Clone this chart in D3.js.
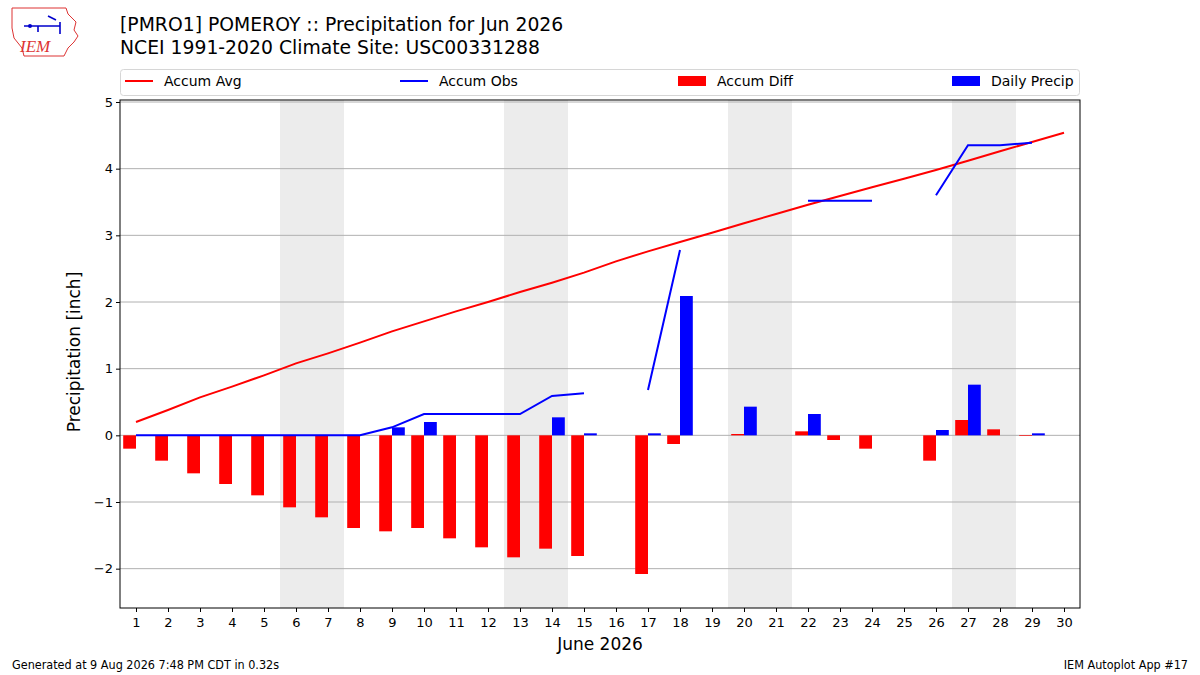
<!DOCTYPE html>
<html lang='en'>
<head>
  <meta charset='UTF-8'>
  <title>POMEROY Precipitation Jun 2026</title>
  <script src="https://d3js.org/d3.v7.min.js"></script>
  <style>
    body { margin: 0; background: #fff; }
    svg { font-family: 'DejaVu Sans', sans-serif; }
    .cond { font-family: 'DejaVu Sans Condensed', 'DejaVu Sans', sans-serif; font-stretch: condensed; }
  </style>
</head>
<body>
  <div id="chart"></div>
  <script>
    const days = d3.range(1, 31);
    const weekends = [[6, 7], [13, 14], [20, 21], [27, 28]];
    const accumAvg = [0.20, 0.38, 0.57, 0.73, 0.90, 1.08, 1.23, 1.39, 1.56, 1.71,
      1.86, 2.00, 2.15, 2.29, 2.44, 2.61, 2.76, 2.90, 3.04, 3.18,
      3.32, 3.46, 3.59, 3.72, 3.85, 3.98, 4.12, 4.26, 4.40, 4.54];
    const accumObs = [0, 0, 0, 0, 0, 0, 0, 0, 0.12, 0.32,
      0.32, 0.32, 0.32, 0.59, 0.63, null, 0.68, 2.78, null, 3.20,
      null, 3.52, 3.52, 3.52, null, 3.60, 4.35, 4.35, 4.39, null];
    const accumDiff = [-0.20, -0.38, -0.57, -0.73, -0.90, -1.08, -1.23, -1.39, -1.44, -1.39,
      -1.545, -1.68, -1.83, -1.70, -1.81, null, -2.08, -0.13, null, 0.02,
      null, 0.06, -0.07, -0.20, null, -0.38, 0.23, 0.09, -0.01, null];
    const dailyPrecip = [0, 0, 0, 0, 0, 0, 0, 0, 0.12, 0.20,
      0, 0, 0, 0.27, 0.03, null, 0.03, 2.09, null, 0.43,
      null, 0.32, 0, 0, null, 0.08, 0.76, 0, 0.03, null];
    const yTicks = [-2, -1, 0, 1, 2, 3, 4, 5];

    const W = 1200, H = 675;
    const m = { left: 120, right: 1080, top: 100, bottom: 608 };

    const svg = d3.select('#chart').append('svg')
      .attr('width', W).attr('height', H);

    const x = d3.scaleLinear().domain([0.5, 30.5]).range([m.left, m.right]);
    const y = d3.scaleLinear().domain([-2.59, 5.03]).range([m.bottom, m.top]);

    // 週末の背景
    svg.append('g').selectAll('rect').data(weekends).join('rect')
      .attr('x', (d) => x(d[0] - 0.5))
      .attr('width', (d) => x(d[1] + 0.5) - x(d[0] - 0.5))
      .attr('y', m.top).attr('height', m.bottom - m.top)
      .attr('fill', '#ececec');

    // グリッド
    svg.append('g').selectAll('line').data(yTicks).join('line')
      .attr('x1', m.left).attr('x2', m.right)
      .attr('y1', (d) => y(d)).attr('y2', (d) => y(d))
      .attr('stroke', '#b0b0b0').attr('stroke-width', 1);

    // 棒グラフ
    const bw = x(0.4) - x(0);
    svg.append('g').selectAll('rect')
      .data(days.map((d, i) => ({ day: d, v: accumDiff[i] })).filter((d) => d.v !== null))
      .join('rect')
      .attr('x', (d) => x(d.day - 0.4))
      .attr('width', bw)
      .attr('y', (d) => y(Math.max(0, d.v)))
      .attr('height', (d) => Math.abs(y(d.v) - y(0)))
      .attr('fill', '#ff0000');

    svg.append('g').selectAll('rect')
      .data(days.map((d, i) => ({ day: d, v: dailyPrecip[i] })).filter((d) => d.v))
      .join('rect')
      .attr('x', (d) => x(d.day))
      .attr('width', bw)
      .attr('y', (d) => y(d.v))
      .attr('height', (d) => y(0) - y(d.v))
      .attr('fill', '#0000ff');

    // 線
    const line = d3.line()
      .defined((d) => d.v !== null)
      .x((d) => x(d.day))
      .y((d) => y(d.v));

    svg.append('path')
      .datum(days.map((d, i) => ({ day: d, v: accumAvg[i] })))
      .attr('fill', 'none').attr('stroke', '#ff0000').attr('stroke-width', 2)
      .attr('d', line);

    svg.append('path')
      .datum(days.map((d, i) => ({ day: d, v: accumObs[i] })))
      .attr('fill', 'none').attr('stroke', '#0000ff').attr('stroke-width', 2)
      .attr('d', line);

    // 軸
    const xAxis = d3.axisBottom(x).tickValues(days).tickFormat(d3.format('d'))
      .tickSize(4).tickPadding(3);
    const yAxis = d3.axisLeft(y).tickValues(yTicks)
      .tickFormat((d) => (d < 0 ? '\u2212' + Math.abs(d) : d)).tickSize(4).tickPadding(3);

    const gx = svg.append('g').attr('transform', `translate(0, ${m.bottom})`).call(xAxis);
    const gy = svg.append('g').attr('transform', `translate(${m.left}, 0)`).call(yAxis);
    [gx, gy].forEach((g) => {
      g.select('.domain').remove();
      g.selectAll('text').attr('font-size', 13).attr('fill', '#000')
        .attr('font-family', "'DejaVu Sans', sans-serif");
      g.selectAll('line').attr('stroke', '#000');
    });
    gx.selectAll('text').attr('dy', '0.95em');

    svg.append('rect')
      .attr('x', m.left).attr('y', m.top)
      .attr('width', m.right - m.left).attr('height', m.bottom - m.top)
      .attr('fill', 'none').attr('stroke', '#000').attr('stroke-width', 1);

    svg.append('text').attr('x', x(15.5)).attr('y', 650)
      .attr('text-anchor', 'middle').attr('font-size', 17).text('June 2026');
    svg.append('text')
      .attr('transform', `translate(80, ${y(1.25)}) rotate(-90)`)
      .attr('text-anchor', 'middle').attr('font-size', 17).text('Precipitation [inch]');

    // タイトル
    svg.append('text').attr('x', 120).attr('y', 31).attr('font-size', 18.8)
      .text('[PMRO1] POMEROY :: Precipitation for Jun 2026');
    svg.append('text').attr('x', 120).attr('y', 54).attr('font-size', 18.8)
      .text('NCEI 1991-2020 Climate Site: USC00331288');

    // 凡例
    svg.append('rect').attr('x', 120.5).attr('y', 69.5).attr('width', 959).attr('height', 26)
      .attr('rx', 3).attr('fill', '#fff').attr('stroke', '#d6d6d6');
    const legend = [
      { name: 'Accum Avg', color: '#ff0000', type: 'line', x: 125 },
      { name: 'Accum Obs', color: '#0000ff', type: 'line', x: 400 },
      { name: 'Accum Diff', color: '#ff0000', type: 'bar', x: 678 },
      { name: 'Daily Precip', color: '#0000ff', type: 'bar', x: 952 }
    ];
    const lg = svg.append('g').selectAll('g').data(legend).join('g')
      .attr('transform', (d) => `translate(${d.x}, 81)`);
    lg.filter((d) => d.type === 'line').append('line')
      .attr('x1', 0).attr('x2', 28).attr('stroke', (d) => d.color).attr('stroke-width', 2);
    lg.filter((d) => d.type === 'bar').append('rect')
      .attr('x', 0).attr('y', -5).attr('width', 28).attr('height', 10).attr('fill', (d) => d.color);
    lg.append('text').attr('x', 39).attr('dy', '0.35em').attr('font-size', 14)
      .text((d) => d.name);

    // フッター
    svg.append('text').attr('class', 'cond').attr('x', 12).attr('y', 669)
      .attr('font-size', 12.5).text('Generated at 9 Aug 2026 7:48 PM CDT in 0.32s');
    svg.append('text').attr('class', 'cond').attr('x', 1188).attr('y', 669)
      .attr('text-anchor', 'end').attr('font-size', 12.5).text('IEM Autoplot App #17');

    // ロゴ (簡易)
    const logo = svg.append('g').attr('transform', 'translate(10, 8)');
    logo.append('path')
      .attr('d', 'M2,0 L56,0 L58,6 L66,14 L64,22 L68,28 L64,34 L58,40 L54,48 L14,48 L12,40 L4,30 L2,20 Z')
      .attr('fill', 'none').attr('stroke', '#d33').attr('stroke-width', 1);
    logo.append('path').attr('d', 'M14,18 L50,18 M28,18 L28,24 M50,14 L50,26 M38,8 L46,12')
      .attr('stroke', '#00c').attr('stroke-width', 1.6).attr('fill', 'none');
    logo.append('circle').attr('cx', 20).attr('cy', 18).attr('r', 2).attr('fill', '#00c');
    logo.append('text').attr('x', 10).attr('y', 44).attr('font-size', 17)
      .attr('font-style', 'italic').attr('font-family', "'Liberation Serif', serif")
      .attr('fill', '#d33').text('IEM');
  </script>
</body>
</html>
